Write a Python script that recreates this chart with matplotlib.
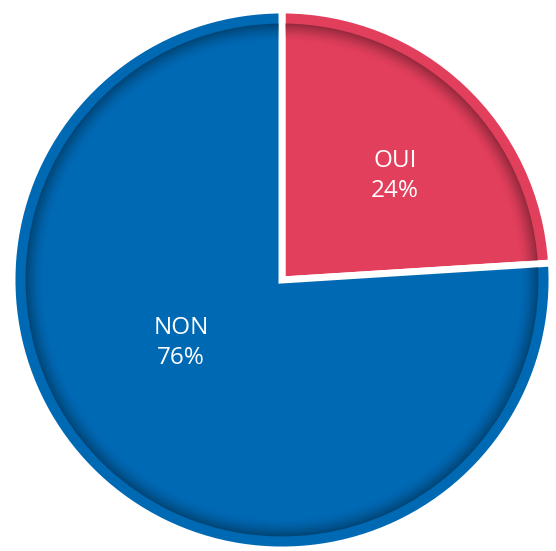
import matplotlib.pyplot as plt
from matplotlib.patches import Wedge

labels = ['OUI', 'NON']
values = [24, 76]
colors = ['#E23F5C', '#0069B4']
explode = [0.055, 0]

plt.rcParams['font.family'] = ['Open Sans', 'DejaVu Sans']

fig = plt.figure(figsize=(5.56, 5.51), dpi=100)
ax = fig.add_axes([0, 0, 1, 1])

R = 270
wedges, texts = ax.pie(values, colors=colors, startangle=90, counterclock=False,
                       explode=explode, center=(282, 271), radius=R,
                       wedgeprops=dict(edgecolor='white', linewidth=5),
                       frame=True)
ax.set_xlim(0, 556)
ax.set_ylim(0, 551)
ax.set_aspect('equal')
ax.axis('off')

# bevel: dark band just inside the outer rim, fading toward the centre
for w in wedges:
    cx, cy = w.center
    steps = 16
    r_in = w.r * 0.95
    for i in range(steps):
        r = r_in - i * 1.1
        a = 0.32 * (1 - i / steps) ** 1.7
        ax.add_patch(Wedge((cx, cy), r, w.theta1 + 0.7, w.theta2 - 0.7,
                           width=1.2, facecolor='black', alpha=a,
                           edgecolor='none', zorder=3))

# label anchors in axes pixels
label_pos = [(395, 375), (181, 208)]
for (x, y), lab, v in zip(label_pos, labels, values):
    ax.text(x, y, f'{lab}\n{v}%', color='white', fontsize=17.5,
            ha='center', va='center', linespacing=1.35, zorder=5)

fig.savefig('out.png', dpi=100)
